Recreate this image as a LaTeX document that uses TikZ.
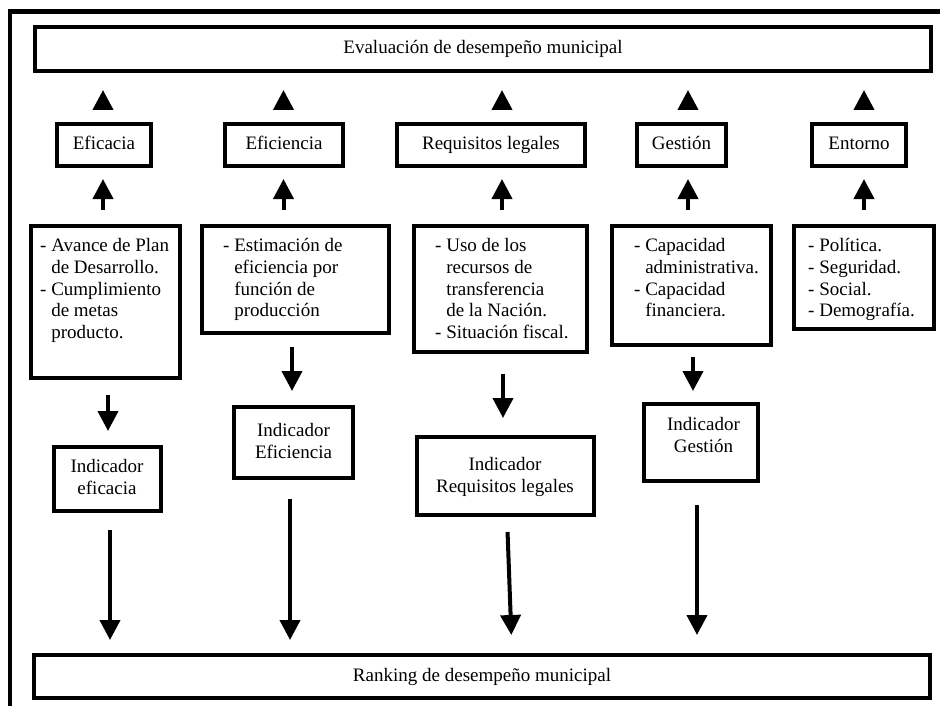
\documentclass[tikz,border=0pt]{standalone}
\usepackage{fontspec}
\setmainfont{Liberation Serif}
\usetikzlibrary{arrows.meta}
\begin{document}
\begin{tikzpicture}[x=1pt,y=-1pt,
  box/.style={draw, line width=4pt, inner sep=0pt},
  lbl/.style={box, font=\fontsize{19}{22}\selectfont, text height=13pt, text depth=4pt},
  txt/.style={inner sep=0pt, font=\fontsize{19}{22}\selectfont},
  arr/.style={line width=4pt, -{Triangle[width=20pt,length=20pt]}},
]
\useasboundingbox (0,0) rectangle (940,706);
% open outer frame
\draw[line width=4.5pt] (940,11.5) -- (10,11.5) -- (10,706);

% top and bottom boxes
\node[lbl, minimum width=896pt, minimum height=44pt] (top) at (483,49) {Evaluación de desempeño municipal};
\node[lbl, minimum width=896pt, minimum height=43pt] (rank) at (482,676.5) {Ranking de desempeño municipal};

% dimension labels
\node[lbl, minimum width=94pt,  minimum height=42pt] (lab1) at (104,145)   {Eficacia};
\node[lbl, minimum width=118pt, minimum height=42pt] (lab2) at (284,145)   {Eficiencia};
\node[lbl, minimum width=188pt, minimum height=42pt] (lab3) at (491,145)   {Requisitos legales};
\node[lbl, minimum width=89pt,  minimum height=42pt] (lab4) at (681.5,145) {Gestión};
\node[lbl, minimum width=94pt,  minimum height=42pt] (lab5) at (859,145)   {Entorno};

% detail boxes
\node[box, minimum width=149pt, minimum height=152pt] (det1) at (105.5,302) {};
\node[box, minimum width=187pt, minimum height=107pt] (det2) at (295.5,279.5) {};
\node[box, minimum width=173pt, minimum height=126pt] (det3) at (500.5,289) {};
\node[box, minimum width=159pt, minimum height=119pt] (det4) at (691.5,285.5) {};
\node[box, minimum width=140pt, minimum height=103pt] (det5) at (864,277.5) {};

\node[txt, anchor=base west] (det1t) at (40,251) {\begin{tabular}[t]{@{}l@{}}- Avance de Plan\\ \phantom{- }de Desarrollo.\\ - Cumplimiento\\ \phantom{- }de metas\\ \phantom{- }producto.\end{tabular}};
\node[txt, anchor=base west] (det2t) at (223,251) {\begin{tabular}[t]{@{}l@{}}- Estimación de\\ \phantom{- }eficiencia por\\ \phantom{- }función de\\ \phantom{- }producción\end{tabular}};
\node[txt, anchor=base west] (det3t) at (435,251) {\begin{tabular}[t]{@{}l@{}}- Uso de los\\ \phantom{- }recursos de\\ \phantom{- }transferencia\\ \phantom{- }de la Nación.\\ - Situación fiscal.\end{tabular}};
\node[txt, anchor=base west] (det4t) at (634,251) {\begin{tabular}[t]{@{}l@{}}- Capacidad\\ \phantom{- }administrativa.\\ - Capacidad\\ \phantom{- }financiera.\end{tabular}};
\node[txt, anchor=base west] (det5t) at (808,251) {\begin{tabular}[t]{@{}l@{}}- Política.\\ - Seguridad.\\ - Social.\\ - Demografía.\end{tabular}};

% indicator boxes
\node[box, minimum width=107pt, minimum height=64pt] (ind1) at (107.5,479) {};
\node[box, minimum width=119pt, minimum height=71pt] (ind2) at (293.5,442.5) {};
\node[box, minimum width=177pt, minimum height=78pt] (ind3) at (505.5,476) {};
\node[box, minimum width=114pt, minimum height=77pt] (ind4) at (701,442.5) {};

\node[txt, anchor=base] (ind1t) at (107,472.5) {\begin{tabular}[t]{@{}c@{}}Indicador\\ eficacia\end{tabular}};
\node[txt, anchor=base] (ind2t) at (293.5,436) {\begin{tabular}[t]{@{}c@{}}Indicador\\ Eficiencia\end{tabular}};
\node[txt, anchor=base] (ind3t) at (505,470.5) {\begin{tabular}[t]{@{}c@{}}Indicador\\ Requisitos legales\end{tabular}};
\node[txt, anchor=base] (ind4t) at (703.5,430.5) {\begin{tabular}[t]{@{}c@{}}Indicador\\ Gestión\end{tabular}};

% arrow columns
\coordinate (u1) at (103,0);
\coordinate (u2) at (283.5,0);
\coordinate (u3) at (502,0);
\coordinate (u4) at (688,0);
\coordinate (u5) at (864,0);
\coordinate (d1) at (108,0);
\coordinate (d2) at (292,0);
\coordinate (d3) at (503,0);
\coordinate (d4) at (693,0);
\coordinate (l1) at (110,0);
\coordinate (l2) at (290,0);
\coordinate (l3a) at (507,0);
\coordinate (l3b) at (512,0);
\coordinate (l4) at (697,0);

% labels -> top
\foreach \i in {1,...,5}{
  \draw[arr, shorten <=12pt, shorten >=17pt] (u\i |- lab\i.north) -- (u\i |- top.south);
  \draw[arr, shorten <=14pt, shorten >=11pt] (u\i |- det\i.north) -- (u\i |- lab\i.south);
}

% details -> indicators
\draw[arr, shorten <=15pt, shorten >=14pt] (d1 |- det1.south) -- (d1 |- ind1.north);
\draw[arr, shorten <=12pt, shorten >=14pt] (d2 |- det2.south) -- (d2 |- ind2.north);
\draw[arr, shorten <=20pt, shorten >=17pt] (d3 |- det3.south) -- (d3 |- ind3.north);
\draw[arr, shorten <=10pt, shorten >=11pt] (d4 |- det4.south) -- (d4 |- ind4.north);

% indicators -> ranking
\draw[arr, shorten <=17pt, shorten >=13pt] (l1 |- ind1.south) -- (l1 |- rank.north);
\draw[arr, shorten <=19pt, shorten >=13pt] (l2 |- ind2.south) -- (l2 |- rank.north);
\draw[arr, shorten <=15pt, shorten >=18pt] (l3a |- ind3.south) -- (l3b |- rank.north);
\draw[arr, shorten <=22pt, shorten >=18pt] (l4 |- ind4.south) -- (l4 |- rank.north);
\end{tikzpicture}
\end{document}
